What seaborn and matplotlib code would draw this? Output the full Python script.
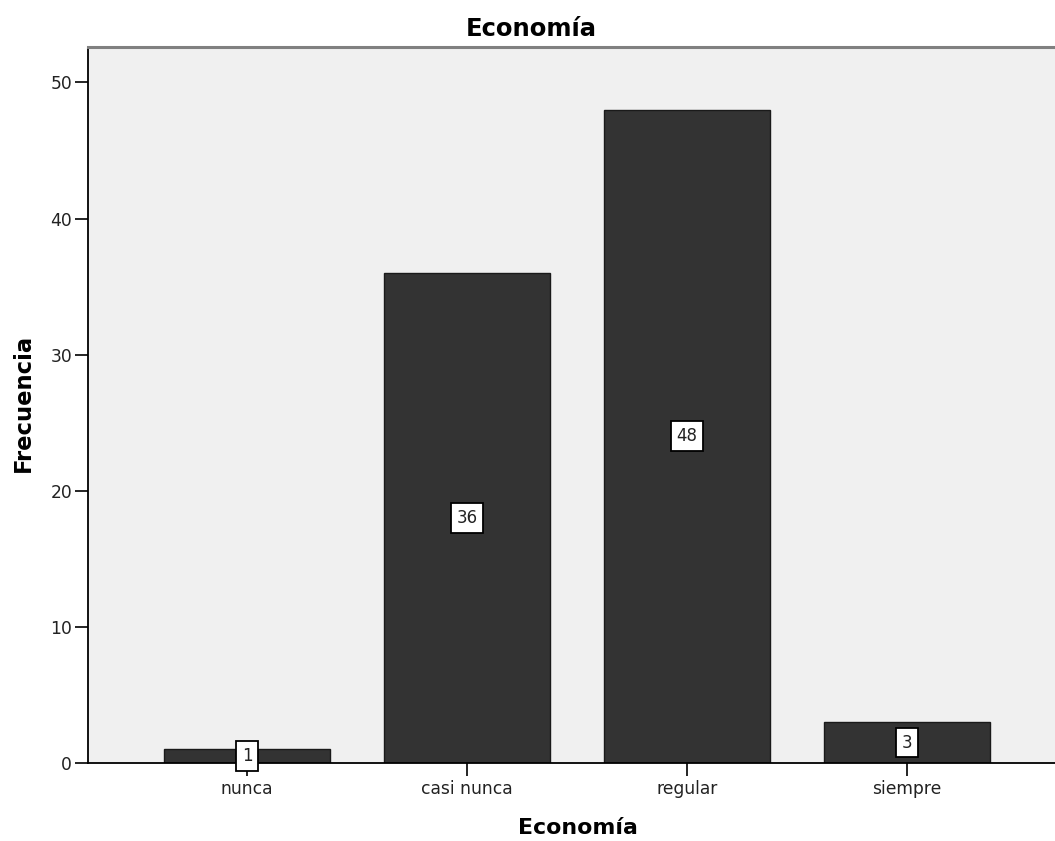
import matplotlib
matplotlib.use("Agg")
import matplotlib.pyplot as plt
import seaborn as sns
import pandas as pd

categorias = ["nunca", "casi nunca", "regular", "siempre"]
frecuencias = [1, 36, 48, 3]
y_ticks = [0, 10, 20, 30, 40, 50]

df = pd.DataFrame({"Economía": categorias, "Frecuencia": frecuencias})

sns.set_theme(style="white")
plt.rcParams["font.family"] = ["DejaVu Sans"]

W, H = 1055, 841
fig = plt.figure(figsize=(W / 100, H / 100), dpi=100)
# axes box in pixels: left 88, bottom spine at 763, top at 47, right beyond the edge
ax = fig.add_axes([88 / W, (H - 763) / H, 978 / W, 716 / H])
ax.set_facecolor("#F0F0F0")

sns.barplot(data=df, x="Economía", y="Frecuencia", color="#333333",
            width=0.755, edgecolor="#1a1a1a", linewidth=1, saturation=1, ax=ax)

# value labels in white boxes at mid-height of each bar
for i, v in enumerate(frecuencias):
    ax.text(i, v / 2, str(v), ha="center", va="center", fontsize=12, color="#222222",
            bbox=dict(boxstyle="square,pad=0.35", facecolor="white", edgecolor="black", linewidth=1.3))

ax.set_xlim(-0.723, 3.723)
ax.set_ylim(0, 52.6)
ax.set_yticks(y_ticks)
ax.tick_params(axis="both", direction="out", length=9.5, width=1.2, color="black",
               labelsize=12.3, labelcolor="#222222", left=True, bottom=True)
ax.tick_params(axis="y", pad=2)
ax.tick_params(axis="x", pad=3)

for side in ["left", "bottom"]:
    ax.spines[side].set_color("black")
    ax.spines[side].set_linewidth(1.3)
ax.spines["top"].set_color("#808080")
ax.spines["top"].set_linewidth(2.2)
ax.spines["right"].set_visible(False)

ax.set_xlabel("Economía", fontsize=15.8, fontweight="bold", color="black")
ax.xaxis.set_label_coords((578 - 88) / 978, (763 - 828) / 716)
ax.xaxis.label.set_va("center")
ax.set_ylabel("Frecuencia", fontsize=16.3, fontweight="bold", color="black")
ax.yaxis.set_label_coords((23 - 88) / 978, (763 - 403) / 716)
ax.yaxis.label.set_va("center")

fig.text(531 / W, 1 - 29 / H, "Economía", ha="center", va="center",
         fontsize=17.5, fontweight="bold", color="black")

fig.savefig("out.png", dpi=100)
